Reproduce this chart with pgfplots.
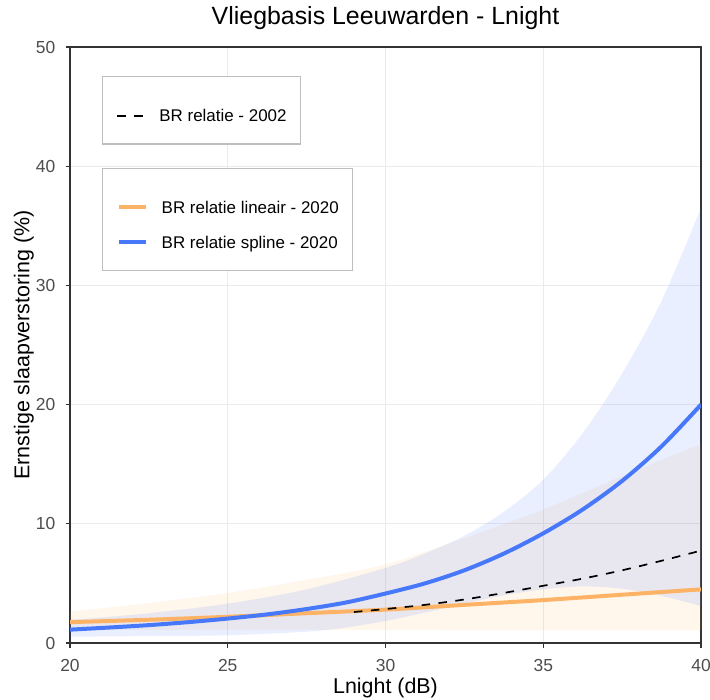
\documentclass[border=0pt]{standalone}
\usepackage{fontspec}
\setmainfont{Liberation Sans}
\usepackage{pgfplots}
\pgfplotsset{compat=1.18}
\usepgfplotslibrary{fillbetween}
\definecolor{bluec}{RGB}{72,120,250}
\definecolor{orangec}{RGB}{253,179,102}
\definecolor{gridc}{RGB}{235,235,235}
\definecolor{axisc}{RGB}{51,51,51}
\definecolor{tickc}{RGB}{77,77,77}
\definecolor{legc}{RGB}{190,190,190}

\pgfplotstableread{
x y
20 1.93
22.5 2.5
25 3.3
27.5 4.5
30 6.3
31.25 7.5
32.5 9.0
33.75 11.0
35 13.7
36.25 17.6
37.5 22.6
38.75 28.7
40 36.5
}\blueupper
\pgfplotstableread{
x y
20 0.53
22.5 0.58
25 0.65
27.5 0.95
28.75 1.3
30 1.85
31.25 2.55
32.5 3.3
33.75 4.0
35 4.5
36.25 4.75
37.5 4.55
38.75 3.95
40 3.1
}\bluelower
\pgfplotstableread{
x y
20 2.63
22.5 3.35
25 4.2
27.5 5.3
30 6.6
32.5 8.8
35 11.2
37.5 14.0
40 16.7
}\orangeupper
\pgfplotstableread{
x y
20 1.08
25 1.12
30 1.1
35 1.07
40 1.05
}\orangelower
\pgfplotstableread{
x y
20 1.12
21.25 1.3
22.5 1.5
23.75 1.75
25 2.05
26.25 2.4
27.5 2.85
28.75 3.4
30 4.15
31.25 5.0
32.5 6.1
33.75 7.5
35 9.2
36.25 11.2
37.5 13.6
38.75 16.5
40 20.0
}\blueline
\pgfplotstableread{
x y
20 1.75
22.5 1.95
25 2.2
27.5 2.5
30 2.8
32.5 3.2
35 3.6
37.5 4.05
40 4.5
}\orangeline
\pgfplotstableread{
x y
29 2.6
30 2.85
31.25 3.2
32.5 3.65
33.75 4.2
35 4.8
36.25 5.4
37.5 6.1
38.75 6.9
40 7.75
}\dashline

\pgfplotsset{
  common/.style={
    at={(0bp,0bp)}, anchor=south west,
    scale only axis, width=631bp, height=596bp,
    xmin=20, xmax=40, ymin=0, ymax=50,
    legend cell align=left,
    legend style={draw=legc, line width=1.3bp, inner xsep=14bp, inner ysep=10.8bp, fill=white,
      font=\fontsize{17}{20}\selectfont, anchor=north west,
      nodes={inner sep=0bp, text height=23.5bp, text depth=11.5bp},
      /tikz/every odd column/.append style={column sep=13.5bp},
      row sep=0bp},
  }
}

\begin{document}
\begin{tikzpicture}
\begin{axis}[common,
  xtick={20,25,30,35,40}, ytick={0,10,20,30,40,50},
  grid=major, major grid style={gridc, line width=1.3bp},
  axis line style={axisc, line width=1.6bp},
  tick style={axisc, line width=1.1bp},
  tick align=outside, major tick length=4.5bp, tick pos=left,
  /pgf/number format/assume math mode=true,
  ticklabel style={font=\fontsize{17.5}{20}\selectfont, text=tickc, inner sep=0bp},
  xticklabel style={anchor=base, yshift=-23.7bp},
  yticklabel style={anchor=east, xshift=-10bp},
  title={Vliegbasis Leeuwarden - Lnight},
  title style={at={(axis description cs:0.5,1.02852)}, anchor=base, font=\fontsize{25}{30}\selectfont},
  xlabel={Lnight (dB)},
  xlabel style={at={(axis description cs:0.5,-0.0844)}, anchor=base, font=\fontsize{21.5}{25}\selectfont},
  ylabel={Ernstige slaapverstoring (\%)},
  ylabel style={at={(axis description cs:-0.0645,0.5)}, anchor=base, font=\fontsize{21.5}{25}\selectfont},
  legend style={at={(axis description cs:0.0507,0.7975)}},
  legend image code/.code={\draw[#1] (0bp,0bp) -- (27.6bp,0bp);},
]
\addplot[name path=ou, draw=none, smooth, forget plot] table {\orangeupper};
\addplot[name path=ol, draw=none, smooth, forget plot] table {\orangelower};
\addplot[fill=orangec, fill opacity=0.12, draw=none, forget plot] fill between[of=ou and ol];
\addplot[name path=bu, draw=none, smooth, forget plot] table {\blueupper};
\addplot[name path=bl, draw=none, smooth, forget plot] table {\bluelower};
\addplot[fill=bluec, fill opacity=0.12, draw=none, forget plot] fill between[of=bu and bl];
\addlegendimage{empty legend}
\addlegendentry[text height=10.7bp, text depth=0bp]{}
\addplot[orangec, line width=4bp, smooth] table {\orangeline};
\addlegendentry{BR relatie lineair - 2020}
\addplot[bluec, line width=4bp, smooth] table {\blueline};
\addlegendentry{BR relatie spline - 2020}
\end{axis}
\begin{axis}[common, hide axis,
  legend style={at={(axis description cs:0.0507,0.9513)}},
  legend image code/.code={\draw[#1] (0bp,0bp) -- (27.6bp,0bp);},
]
\addlegendimage{empty legend}
\addlegendentry[text height=10.7bp, text depth=0bp]{}
\addplot[black, line width=1.7bp, dash pattern=on 8.5bp off 8.5bp, smooth] table {\dashline};
\addlegendentry{BR relatie - 2002}
\end{axis}
\pgfresetboundingbox
\path[use as bounding box] (-70bp,-57bp) rectangle (640bp,643bp);
\end{tikzpicture}
\end{document}
